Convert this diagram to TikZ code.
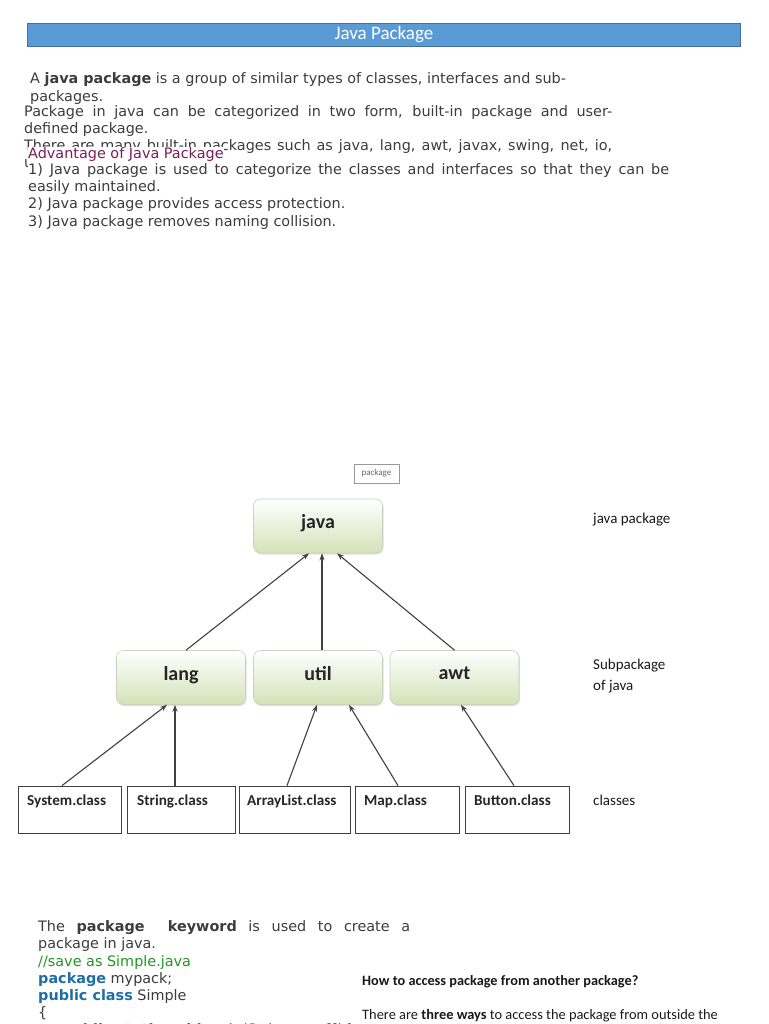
\documentclass[tikz,border=0pt]{standalone}
\usepackage{fontspec}
\setmainfont{DejaVu Sans}
\newfontfamily\calfont{Carlito}
\usetikzlibrary{shadows,arrows.meta,calc}
\definecolor{txt}{RGB}{60,60,60}
\definecolor{titlefill}{RGB}{91,155,213}
\definecolor{titledraw}{RGB}{65,113,156}
\definecolor{advpurple}{RGB}{122,30,92}
\definecolor{cmtgreen}{RGB}{34,150,34}
\definecolor{kwblue}{RGB}{30,110,165}
\definecolor{pkggreen}{RGB}{212,226,184}
\definecolor{pkgborder}{RGB}{200,210,190}
\begin{document}
\begin{tikzpicture}[x=1pt,y=-1pt,
  body/.style={anchor=base west, inner sep=0pt, text=txt, font=\fontsize{14.4}{17}\selectfont},
  side/.style={anchor=base west, inner sep=0pt, text=black!90, font=\calfont\fontsize{15}{18}\selectfont},
  pkgbox/.style={rounded corners=7pt, top color=white, bottom color=pkggreen, draw=pkgborder,
     line width=0.6pt, minimum width=129pt, minimum height=54pt, inner sep=0pt,
     font=\calfont\bfseries\fontsize{20}{22}\selectfont, text=black!85,
     drop shadow={shadow xshift=1pt, shadow yshift=-1.5pt, opacity=0.25}},
  clsbox/.style={draw=black!75, line width=0.8pt, minimum height=47pt, inner sep=0pt},
  clslabel/.style={font=\calfont\bfseries\fontsize{15.2}{17}\selectfont, text=black!85, inner sep=0pt, anchor=base west},
  arr/.style={draw=black!75, line width=1.1pt, -{Stealth[length=7pt,width=5pt]}}
]
\useasboundingbox (0,0) rectangle (768,1024);
\clip (0,0) rectangle (768,1024);

% title bar
\node[draw=titledraw, fill=titlefill, line width=0.8pt, minimum width=713pt, minimum height=23pt,
  inner sep=0pt, anchor=north west, text=white, font=\calfont\fontsize{19}{21}\selectfont] (title) at (27,23) {Java Package};

% intro text
\node[body] (l1) at (30,84) {A \textbf{java package} is a group of similar types of classes, interfaces and sub-};
\node[body] (l2) at (30,102) {packages.};
\node[body] (l3) at (24,117) {\makebox[588pt][s]{Package in java can be categorized in two form, built-in package and user-}};
\node[body] (l4) at (24,134) {defined package.};
\node[body] (l5) at (24,151) {\makebox[588pt][s]{There are many built-in packages such as java, lang, awt, javax, swing, net, io,}};
\node[body] (l6) at (24,168) {util, sql etc.};
\node[body, fill=white, inner ysep=3pt] (a1) at (28,175) {\makebox[641pt][s]{1) Java package is used to categorize the classes and interfaces so that they can be}};
\node[body, fill=white, inner ysep=1.5pt, text=advpurple] (adv) at (28,159) {Advantage of Java Package};
\node[body] (a1b) at (28,192) {easily maintained.};
\node[body] (a2) at (28,209) {2) Java package provides access protection.};
\node[body] (a3) at (28,226) {3) Java package removes naming collision.};

% diagram
\node[draw=black!40, line width=0.6pt, minimum width=45pt, minimum height=19pt, inner sep=0pt,
  text=black!60, font=\calfont\fontsize{9}{10}\selectfont] (pkglabel) at (376.5,473.5) {package};

\node[pkgbox] (java) at (318,526) {\raisebox{10pt}{java}};
\node[pkgbox] (lang) at (181,677.5) {\raisebox{9pt}{lang}};
\node[pkgbox] (util) at (318,677.5) {\raisebox{9pt}{util}};
\node[pkgbox] (awt) at (454.5,677.5) {\raisebox{9pt}{awt}};

\node[side] (t1) at (593,523) {java package};
\node[side] (t2) at (593,669) {Subpackage};
\node[side] (t3) at (593,690) {of java};
\node[side] (t4) at (593,805) {classes};

\node[clsbox, minimum width=103pt] (sys) at (69.5,809.5) {};
\node[clsbox, minimum width=108pt] (str) at (181,809.5) {};
\node[clsbox, minimum width=111pt] (arl) at (294.5,809.5) {};
\node[clsbox, minimum width=104pt] (map) at (407,809.5) {};
\node[clsbox, minimum width=104pt] (btn) at (517,809.5) {};
\node[clslabel] (sysl) at (27,805) {System.class};
\node[clslabel] (strl) at (137,805) {String.class};
\node[clslabel] (arll) at (247,805) {ArrayList.class};
\node[clslabel] (mapl) at (364,805) {Map.class};
\node[clslabel] (btnl) at (474,805) {Button.class};

\draw[arr] ([xshift=5pt]lang.north) -- ([xshift=-9pt]java.south);
\draw[arr] ([xshift=4pt]util.north) -- ([xshift=4pt]java.south);
\draw[arr] ([xshift=0pt]awt.north) -- ([xshift=19pt]java.south);
\draw[arr] ([xshift=-7.5pt]sys.north) -- ([xshift=-14pt]lang.south);
\draw[arr] ([xshift=-6pt]str.north) -- ([xshift=-6pt]lang.south);
\draw[arr] ([xshift=-7.5pt]arl.north) -- ([xshift=-1pt]util.south);
\draw[arr] ([xshift=-9pt]map.north) -- ([xshift=31pt]util.south);
\draw[arr] ([xshift=-3pt]btn.north) -- ([xshift=6.5pt]awt.south);

% bottom left code text
\node[body] (b1) at (38,931) {\makebox[372pt][s]{The \textbf{package} \ \textbf{keyword} is used to create a}};
\node[body] (b2) at (38,948) {package in java.};
\node[body, text=cmtgreen] (b3) at (38,966) {//save as Simple.java};
\node[body] (b4) at (38,983) {\textcolor{kwblue}{\textbf{package}} mypack;};
\node[body] (b5) at (38,1000) {\textcolor{kwblue}{\textbf{public class}} Simple};
\node[body] (b6) at (38,1017) {\{};
\node[body, text=kwblue] (b7) at (62,1034) {\textbf{public static void} main(String args[])\{};

% bottom right
\node[side, font=\calfont\bfseries\fontsize{14.3}{17}\selectfont] (h1) at (362,985) {How to access package from another package?};
\node[side, font=\calfont\fontsize{14.4}{17}\selectfont] (h2) at (362,1019) {There are \textbf{three ways} to access the package from outside the};
\end{tikzpicture}
\end{document}
